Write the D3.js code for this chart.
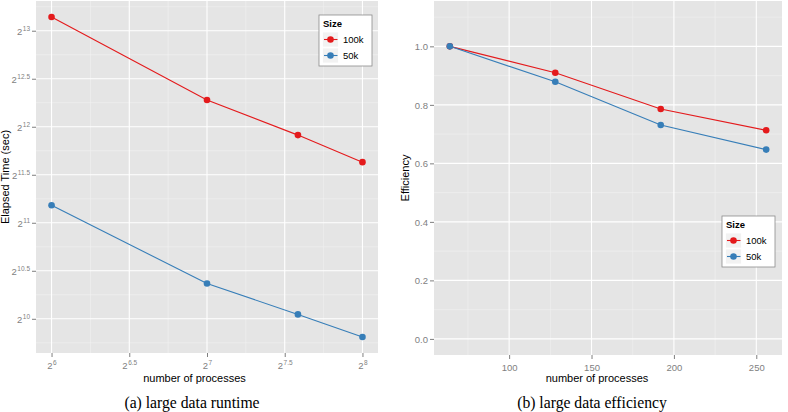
<!DOCTYPE html>
<html>
<head>
<meta charset="utf-8">
<script src="https://cdn.jsdelivr.net/npm/d3@7"></script>
<style>
  body { margin: 0; background: #fff; }
  text { font-family: "Liberation Sans", Arial, sans-serif; }
</style>
</head>
<body>
<svg width="788" height="412"></svg>
<script>
// values
const processes = [64, 128, 192, 256];
const sizes = ["100k", "50k"];
const colors = ["#e41a1c", "#377eb8"];
const time100k = [9045, 4970, 3856, 3172];
const time50k = [2324, 1321, 1057, 898];
const eff100k = [1.0, 0.910, 0.786, 0.713];
const eff50k = [1.0, 0.879, 0.731, 0.647];
const timeExpTicks = [10, 10.5, 11, 11.5, 12, 12.5, 13];
const procExpTicks = [6, 6.5, 7, 7.5, 8];
const effTicks = [0, 0.2, 0.4, 0.6, 0.8, 1.0];
const procTicks = [100, 150, 200, 250];

const svg = d3.select("svg");

function expand(lo, hi) {
  const d = (hi - lo) * 0.05;
  return [lo - d, hi + d];
}

function panel(opt) {
  const g = svg.append("g");
  const x = opt.x, y = opt.y;
  const [x0, x1] = x.range();
  const [y0, y1] = y.range();

  g.append("rect")
    .attr("x", x0).attr("y", y1)
    .attr("width", x1 - x0).attr("height", y0 - y1)
    .attr("fill", "#e5e5e5");

  // minor grid
  g.selectAll(".minx").data(opt.minorX).enter().append("line")
    .attr("x1", x).attr("x2", x).attr("y1", y1).attr("y2", y0)
    .attr("stroke", "#f2f2f2").attr("stroke-width", 0.6);
  g.selectAll(".miny").data(opt.minorY).enter().append("line")
    .attr("y1", y).attr("y2", y).attr("x1", x0).attr("x2", x1)
    .attr("stroke", "#f2f2f2").attr("stroke-width", 0.6);
  // major grid
  g.selectAll(".majx").data(opt.ticksX).enter().append("line")
    .attr("x1", x).attr("x2", x).attr("y1", y1).attr("y2", y0)
    .attr("stroke", "#fff").attr("stroke-width", 1.1);
  g.selectAll(".majy").data(opt.ticksY).enter().append("line")
    .attr("y1", y).attr("y2", y).attr("x1", x0).attr("x2", x1)
    .attr("stroke", "#fff").attr("stroke-width", 1.1);

  // axes
  const ax = g.append("g").attr("transform", `translate(0,${y0})`)
    .call(d3.axisBottom(x).tickValues(opt.ticksX).tickSize(4).tickPadding(3).tickFormat(""));
  const ay = g.append("g").attr("transform", `translate(${x0},0)`)
    .call(d3.axisLeft(y).tickValues(opt.ticksY).tickSize(4).tickPadding(3).tickFormat(""));
  [ax, ay].forEach(a => {
    a.select(".domain").remove();
    a.selectAll("line").attr("stroke", "#7f7f7f");
  });
  ax.selectAll(".tick").each(function (d) {
    const t = d3.select(this).append("text")
      .attr("y", 16).attr("text-anchor", "middle")
      .attr("fill", "#7f7f7f").attr("font-size", 9.5);
    opt.labelX(t, d);
  });
  ay.selectAll(".tick").each(function (d) {
    const t = d3.select(this).append("text")
      .attr("x", -6).attr("dy", "0.35em").attr("text-anchor", "end")
      .attr("fill", "#7f7f7f").attr("font-size", 9.5);
    opt.labelY(t, d);
  });

  // series
  const line = d3.line().x((d, i) => x(processes[i])).y(d => y(d));
  opt.series.forEach((s, k) => {
    g.append("path").datum(s)
      .attr("fill", "none").attr("stroke", colors[k]).attr("stroke-width", 1.1)
      .attr("d", line);
    g.selectAll(".pt" + k).data(s).enter().append("circle")
      .attr("cx", (d, i) => x(processes[i])).attr("cy", d => y(d))
      .attr("r", 3.3).attr("fill", colors[k]);
  });

  // titles
  g.append("text").attr("x", opt.xTitleX).attr("y", 382)
    .attr("text-anchor", "middle").attr("font-size", 11).text("number of processes");
  g.append("text")
    .attr("transform", `translate(${opt.yTitleX},${(y0 + y1) / 2}) rotate(-90)`)
    .attr("text-anchor", "middle").attr("font-size", 11).text(opt.yTitle);
  g.append("text").attr("x", opt.captionX).attr("y", 408)
    .attr("text-anchor", "middle").attr("font-size", 15.7)
    .style("font-family", "'Liberation Serif', 'Times New Roman', serif")
    .text(opt.caption);

  // legend
  const lg = g.append("g").attr("transform", `translate(${opt.legend[0]},${opt.legend[1]})`);
  lg.append("rect").attr("width", 53).attr("height", 51)
    .attr("fill", "#fff").attr("stroke", "#8c8c8c").attr("stroke-width", 0.8);
  lg.append("text").attr("x", 4).attr("y", 12)
    .attr("font-size", 9.5).attr("font-weight", "bold").text("Size");
  sizes.forEach((s, k) => {
    const ky = 17 + k * 16;
    lg.append("rect").attr("x", 3.5).attr("y", ky).attr("width", 16).attr("height", 15)
      .attr("fill", "#f2f2f2").attr("stroke", "#fff").attr("stroke-width", 0.8);
    lg.append("line").attr("x1", 5).attr("x2", 18.5).attr("y1", ky + 7.5).attr("y2", ky + 7.5)
      .attr("stroke", colors[k]).attr("stroke-width", 1.1);
    lg.append("circle").attr("cx", 11.5).attr("cy", ky + 7.5).attr("r", 3.3).attr("fill", colors[k]);
    lg.append("text").attr("x", 24).attr("y", ky + 11)
      .attr("font-size", 9.5).text(s);
  });
}

function powLabel(t, e) {
  t.append("tspan").text("2");
  t.append("tspan").attr("font-size", 6.5).attr("dy", "-0.55em").attr("dx", "0.5").text(e);
}

// (a) runtime
const allTime = time100k.concat(time50k).map(Math.log2);
const yExp = expand(d3.min(allTime), d3.max(allTime));
const xExp = expand(Math.log2(d3.min(processes)), Math.log2(d3.max(processes)));
const mids = a => a.slice(1).map((v, i) => (v + a[i]) / 2);
panel({
  x: d3.scaleLog().base(2).domain(xExp.map(e => 2 ** e)).range([36, 378]),
  y: d3.scaleLog().base(2).domain(yExp.map(e => 2 ** e)).range([353, 1]),
  ticksX: procExpTicks.map(e => 2 ** e),
  ticksY: timeExpTicks.map(e => 2 ** e),
  minorX: mids(procExpTicks).map(e => 2 ** e),
  minorY: mids([9.5].concat(timeExpTicks, [13.5])).map(e => 2 ** e),
  labelX: (t, d) => powLabel(t, String(+Math.log2(d).toFixed(1))),
  labelY: (t, d) => powLabel(t, String(+Math.log2(d).toFixed(1))),
  series: [time100k, time50k],
  xTitleX: 194.5,
  captionX: 192,
  yTitle: "Elapsed Time (sec)",
  yTitleX: 8.5,
  caption: "(a) large data runtime",
  legend: [319, 15]
});

// (b) efficiency
const xLin = expand(d3.min(processes), d3.max(processes));
const yLin = expand(0, 1.1);
panel({
  x: d3.scaleLinear().domain(xLin).range([434, 782]),
  y: d3.scaleLinear().domain(yLin).range([355, 1]),
  ticksX: procTicks,
  ticksY: effTicks,
  minorX: [75, 125, 175, 225],
  minorY: [0.1, 0.3, 0.5, 0.7, 0.9, 1.1],
  labelX: (t, d) => t.text(d),
  labelY: (t, d) => t.text(d3.format(".1f")(d)),
  series: [eff100k, eff50k],
  xTitleX: 597,
  captionX: 592,
  yTitle: "Efficiency",
  yTitleX: 409,
  caption: "(b) large data efficiency",
  legend: [722, 216]
});
</script>
</body>
</html>
